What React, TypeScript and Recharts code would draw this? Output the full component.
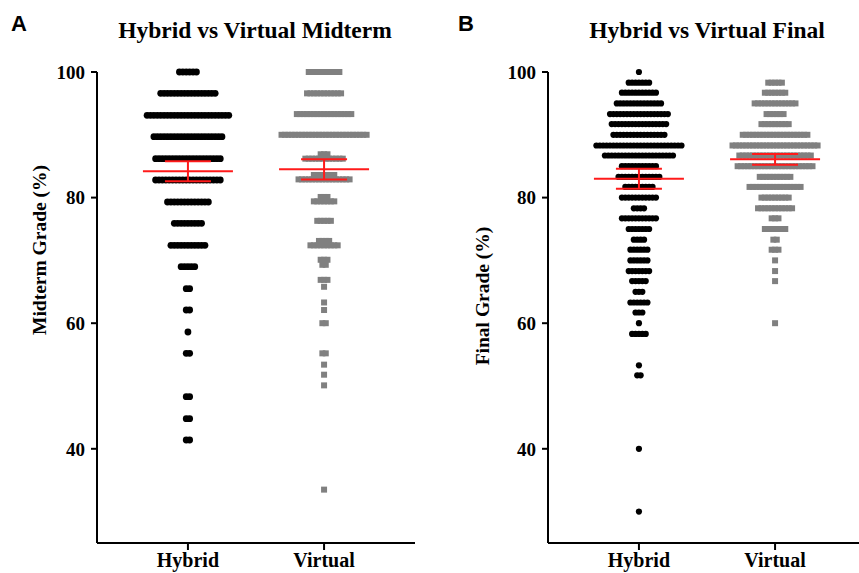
import { ScatterChart, Scatter, XAxis, YAxis } from "recharts";

const GROUPS = ["Hybrid", "Virtual"];
const Y_TICKS = [40, 60, 80, 100];

// Midterm (panel A): grade rows and number of students on each row
const midtermHybridGrades = [100, 96.6, 93.1, 89.7, 86.2, 82.8, 79.3, 75.9, 72.4, 69.0, 65.5, 62.1, 58.6, 55.2, 48.3, 44.8, 41.4];
const midtermHybridCounts = [6, 17, 25, 21, 20, 20, 13, 9, 11, 5, 2, 2, 1, 2, 2, 2, 2];
const midtermVirtualGrades = [100, 96.6, 93.3, 90.0, 86.9, 86.2, 83.6, 82.9, 80.1, 79.4, 76.3, 73.1, 72.4, 70.1, 69.3, 66.9, 65.8, 63.3, 62.1, 60.0, 55.2, 53.4, 51.8, 50.1, 33.5];
const midtermVirtualCounts = [10, 11, 17, 26, 3, 12, 7, 16, 3, 7, 5, 4, 9, 3, 2, 3, 1, 1, 1, 2, 2, 1, 1, 1, 1];
const midtermMeans = [84.2, 84.5];
const midtermErrors = [1.6, 1.6];

// Final (panel B)
const finalHybridGrades = [100, 98.3, 96.7, 95.0, 93.3, 91.7, 90.0, 88.3, 86.7, 85.0, 83.3, 81.7, 80.0, 78.3, 76.7, 75.0, 73.3, 71.7, 70.0, 68.3, 66.7, 65.0, 63.3, 61.7, 60.0, 58.3, 53.3, 51.7, 40.0, 30.0];
const finalHybridCounts = [1, 7, 11, 14, 18, 17, 16, 26, 21, 11, 13, 9, 11, 4, 11, 7, 4, 6, 6, 7, 5, 3, 6, 3, 1, 5, 1, 2, 1, 1];
const finalVirtualGrades = [98.3, 96.7, 95.0, 93.3, 91.7, 90.0, 88.3, 86.7, 85.0, 83.3, 81.7, 80.0, 78.3, 76.7, 75.0, 73.3, 71.7, 70.0, 68.3, 66.7, 60.0];
const finalVirtualCounts = [5, 7, 13, 6, 9, 20, 26, 22, 23, 10, 16, 9, 11, 3, 7, 2, 3, 1, 1, 1, 1];
const finalMeans = [83.0, 86.1];
const finalErrors = [1.6, 0.85];

const SERIF = "'Liberation Serif', 'Times New Roman', serif";
const SANS = "'Liberation Sans', Arial, sans-serif";
const RED = "#ff1a1a";
const GREY = "#808080";
const X_DOMAIN = [0.332, 2.668];
const STEP = 0.025; // horizontal spacing of dots in a row, in x units

// spread the points on each row side by side around the group position
function swarm(grades: number[], counts: number[], group: number) {
  const pts: { x: number; y: number }[] = [];
  grades.forEach((g, r) => {
    const n = counts[r];
    for (let i = 0; i < n; i++) {
      pts.push({ x: group + (i - (n - 1) / 2) * STEP, y: g });
    }
  });
  return pts;
}

const tickStyle = { fill: "#000", fontSize: 19, fontWeight: "bold", fontFamily: SERIF };

type PanelProps = {
  left: number;
  width: number;
  hybrid: { x: number; y: number }[];
  virtual: { x: number; y: number }[];
  means: number[];
  errors: number[];
  dotR: number;
};

const hLine = (half: number) => (p: any) => (
  <line x1={p.cx - half} x2={p.cx + half} y1={p.cy} y2={p.cy} stroke={RED} strokeWidth={2} />
);

function Panel({ left, width, hybrid, virtual, means, errors, dotR }: PanelProps) {
  const dot = (p: any) => <circle cx={p.cx} cy={p.cy} r={dotR} fill="#000" />;
  const square = (p: any) => <rect x={p.cx - 3} y={p.cy - 3} width={6} height={6} fill={GREY} />;
  const meanData = means.map((m, i) => ({ x: i + 1, y: m }));
  return (
    <div style={{ position: "absolute", left, top: 0 }}>
      <ScatterChart width={width} height={573} margin={{ top: 72, right: 15, bottom: 0, left: 0 }}>
        <XAxis
          type="number"
          dataKey="x"
          domain={X_DOMAIN}
          ticks={[1, 2]}
          tickFormatter={(v) => GROUPS[v - 1]}
          height={30}
          axisLine={{ stroke: "#000", strokeWidth: 2 }}
          tickLine={{ stroke: "#000", strokeWidth: 2 }}
          tickSize={7}
          tickMargin={3}
          tick={{ ...tickStyle, fontSize: 20 }}
        />
        <YAxis
          type="number"
          dataKey="y"
          domain={[25, 100]}
          ticks={Y_TICKS}
          width={97}
          axisLine={{ stroke: "#000", strokeWidth: 2 }}
          tickLine={{ stroke: "#000", strokeWidth: 2 }}
          tickSize={6}
          tickMargin={6}
          tick={tickStyle}
        />
        <Scatter data={hybrid} shape={dot} isAnimationActive={false} />
        <Scatter data={virtual} shape={square} isAnimationActive={false} />
        {means.map((m, i) => (
          <Scatter
            key={`err${i}`}
            data={[
              { x: i + 1, y: m + errors[i] },
              { x: i + 1, y: m - errors[i] },
            ]}
            line={{ stroke: RED, strokeWidth: 2 }}
            shape={hLine(23)}
            isAnimationActive={false}
          />
        ))}
        <Scatter data={meanData} shape={hLine(45)} isAnimationActive={false} />
      </ScatterChart>
    </div>
  );
}

const abs = (extra: any) => ({ position: "absolute" as const, whiteSpace: "nowrap" as const, ...extra });

export default function App() {
  return (
    <div style={{ position: "absolute", left: 0, top: 0, width: 859, height: 573, overflow: "hidden", background: "#fff" }}>
      <Panel
        left={0}
        width={430}
        hybrid={swarm(midtermHybridGrades, midtermHybridCounts, 1)}
        virtual={swarm(midtermVirtualGrades, midtermVirtualCounts, 2)}
        means={midtermMeans}
        errors={midtermErrors}
        dotR={3.4}
      />
      <Panel
        left={451}
        width={430}
        hybrid={swarm(finalHybridGrades, finalHybridCounts, 1)}
        virtual={swarm(finalVirtualGrades, finalVirtualCounts, 2)}
        means={finalMeans}
        errors={finalErrors}
        dotR={3.1}
      />
      <div style={abs({ left: 11, top: 11, fontFamily: SANS, fontWeight: "bold", fontSize: 22 })}>A</div>
      <div style={abs({ left: 458, top: 11, fontFamily: SANS, fontWeight: "bold", fontSize: 22 })}>B</div>
      <div style={abs({ left: 255, top: 30, transform: "translate(-50%, -50%)", fontFamily: SERIF, fontWeight: "bold", fontSize: 23.5 })}>
        Hybrid vs Virtual Midterm
      </div>
      <div style={abs({ left: 707, top: 30, transform: "translate(-50%, -50%)", fontFamily: SERIF, fontWeight: "bold", fontSize: 23.5 })}>
        Hybrid vs Virtual Final
      </div>
      <div style={abs({ left: 40, top: 250, transform: "translate(-50%, -50%) rotate(-90deg)", fontFamily: SERIF, fontWeight: "bold", fontSize: 19.5 })}>
        Midterm Grade (%)
      </div>
      <div style={abs({ left: 483, top: 296, transform: "translate(-50%, -50%) rotate(-90deg)", fontFamily: SERIF, fontWeight: "bold", fontSize: 19.5 })}>
        Final Grade (%)
      </div>
    </div>
  );
}
